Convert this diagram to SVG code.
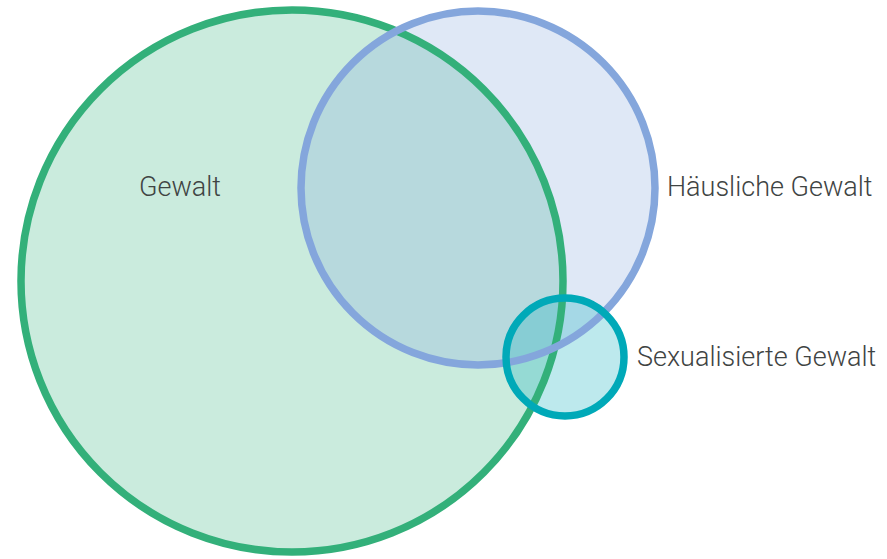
<svg xmlns="http://www.w3.org/2000/svg" width="887" height="559" viewBox="0 0 887 559">
<style>
.lbl{font-family:Roboto,"Liberation Sans",sans-serif;font-weight:300;font-size:27px;fill:#3f4443}
.fill{fill-opacity:0.26;stroke:none}
.ol{fill:none;stroke-width:7.5}
</style>
<defs>
<circle id="c-gewalt" cx="292" cy="281" r="271"/>
<circle id="c-haeusliche" cx="478" cy="188" r="177"/>
<circle id="c-sexualisierte" cx="565" cy="357" r="59"/>
</defs>
<rect width="887" height="559" fill="#fff"/>
<g id="gewalt">
<use href="#c-gewalt" class="fill" fill="#33b07a"/>
<text class="lbl" x="139" y="196">Gewalt</text>
</g>
<g id="haeusliche">
<use href="#c-haeusliche" class="fill" fill="#84a6dc"/>
<text class="lbl" x="667" y="196">Häusliche Gewalt</text>
</g>
<g id="sexualisierte">
<use href="#c-sexualisierte" class="fill" fill="#00a9b8"/>
<text class="lbl" x="637" y="366">Sexualisierte Gewalt</text>
</g>
<g id="outlines">
<use href="#c-gewalt" class="ol" stroke="#33b07a"/>
<use href="#c-haeusliche" class="ol" stroke="#84a6dc"/>
<use href="#c-sexualisierte" class="ol" stroke="#00a9b8"/>
</g>
</svg>
